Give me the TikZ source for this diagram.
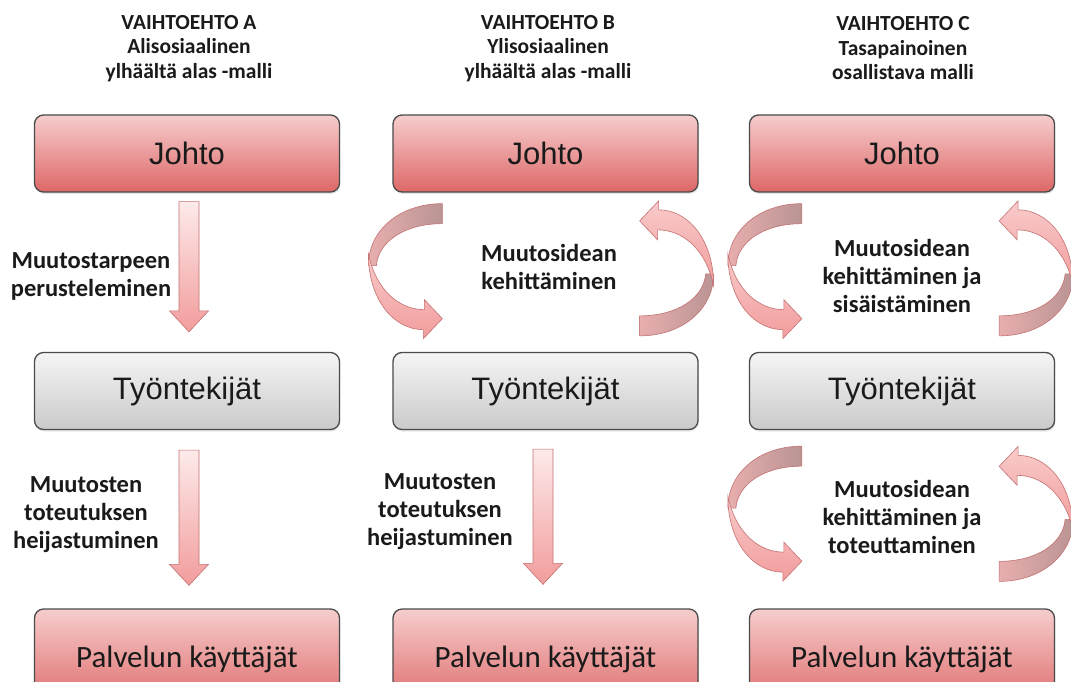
\documentclass[tikz,border=0pt]{standalone}
\usepackage{fontspec}
\setmainfont{Carlito}
\newfontfamily\arialfont{Liberation Sans}
\usetikzlibrary{calc,shadows}

\definecolor{boxline}{HTML}{4A4A4A}
\definecolor{redtop}{HTML}{F6CDCD}
\definecolor{redbot}{HTML}{DE6767}
\definecolor{greytop}{HTML}{F5F5F5}
\definecolor{greybot}{HTML}{CACACA}
\definecolor{arrowtop}{HTML}{FDEAEA}
\definecolor{arrowbot}{HTML}{F29C9C}
\definecolor{arrowline}{HTML}{C47272}
\definecolor{backdark}{HTML}{BA9494}
\definecolor{backlight}{HTML}{E8AEAE}
\definecolor{inktext}{HTML}{1A1A1A}

\tikzset{
  box/.style={draw=boxline, line width=1.3pt, rounded corners=9pt,
    minimum width=305pt, minimum height=77pt, inner sep=0pt, text=inktext,
    drop shadow={shadow xshift=0.8pt, shadow yshift=-2pt, opacity=0.18}},
  redbox/.style={box, top color=redtop, bottom color=redbot,
    font=\arialfont\fontsize{31}{31}\selectfont},
  greybox/.style={box, top color=greytop, bottom color=greybot,
    font=\arialfont\fontsize{31}{31}\selectfont},
  userbox/.style={box, top color=redtop, bottom color=redbot,
    minimum height=100pt, font=\fontsize{31}{31}\selectfont},
  head/.style={align=center, text=inktext,
    font=\bfseries\fontsize{21.5}{24.5}\selectfont},
  lbl/.style={align=center, text=inktext,
    font=\bfseries\fontsize{24.5}{28}\selectfont},
  fatdown/.style={to path={
    let \p1=(\tikztostart), \p2=(\tikztotarget) in
    (\x1-10pt,\y1) -- (\x1+10pt,\y1) -- (\x1+10pt,\y2+21pt)
    -- (\x1+19.5pt,\y2+21pt) -- (\x1,\y2) -- (\x1-19.5pt,\y2+21pt)
    -- (\x1-10pt,\y2+21pt) -- cycle}},
  fatarrow/.style={top color=arrowtop, bottom color=arrowbot,
    draw=arrowline, line width=0.6pt, fatdown},
  ribbon/.pic={
    % back face of the loop
    \shade[left color=backlight, right color=backdark,
      draw=arrowline, line width=0.6pt]
      (0,0) .. controls (-43,0) and (-74,27) .. (-74,62)
      -- (-66,62) .. controls (-64,38) and (-38,20) .. (0,20) -- cycle;
    % front face with the head
    \shade[top color=arrowtop!60!arrowbot, bottom color=arrowbot,
      draw=arrowline, line width=0.6pt]
      (-74,50) .. controls (-74,97) and (-48,126) .. (-19,126)
      -- (-19,135) -- (0,115) -- (-18,96) -- (-18,106)
      .. controls (-42,106) and (-66,88) .. (-74,50) -- cycle;
  }
}

\begin{document}
\begin{tikzpicture}[x=1pt, y=-1pt]
\useasboundingbox (0,0) rectangle (1071,681);
\clip (0,0) rectangle (1071,681);
\fill[white] (0,0) rectangle (1071,681);

% column headings
\node[head] (hA) at (189,48.5) {VAIHTOEHTO A\\Alisosiaalinen\\ylhäältä alas -malli};
\node[head] (hB) at (548,48.5) {VAIHTOEHTO B\\Ylisosiaalinen\\ylhäältä alas -malli};
\node[head] (hC) at (903,48.5) {VAIHTOEHTO C\\Tasapainoinen\\osallistava malli};

% boxes
\node[redbox] (jA) at (187,153.5) {Johto};
\node[redbox] (jB) at (545.5,153.5) {Johto};
\node[redbox] (jC) at (902,153.5) {Johto};
\node[greybox] (tA) at (187,391) {Työntekijät};
\node[greybox] (tB) at (545.5,391) {Työntekijät};
\node[greybox] (tC) at (902,391) {Työntekijät};
\node[userbox] (pA) at (187,659) {Palvelun käyttäjät};
\node[userbox] (pB) at (545.5,659) {Palvelun käyttäjät};
\node[userbox] (pC) at (902,659) {Palvelun käyttäjät};

% straight arrows
\coordinate (a1s) at ($(jA.south)+(2,9)$);
\coordinate (a1e) at ($(tA.north)+(2,-20)$);
\coordinate (a2s) at ($(tA.south)+(2,20)$);
\coordinate (a2e) at ($(pA.north)+(2,-23)$);
\coordinate (b2s) at ($(tB.south)+(-2.5,19)$);
\coordinate (b2e) at ($(pB.north)+(-2.5,-24)$);
\shade[fatarrow] (a1s) to (a1e);
\shade[fatarrow] (a2s) to (a2e);
\shade[fatarrow] (b2s) to (b2e);

% looping ribbon arrows
\pic at ($(jB.south west)+(50,11)$) {ribbon};
\pic[rotate=180] at ($(tB.north east)+(-59,-16)$) {ribbon};
\pic at ($(jC.south west)+(53,11)$) {ribbon};
\pic[rotate=180] at ($(tC.north east)+(-56,-16)$) {ribbon};
\pic at ($(tC.south west)+(53,16)$) {ribbon};
\pic[rotate=180] at ($(pC.north east)+(-56,-27)$) {ribbon};

% arrow labels
\node[lbl] (lA1) at (91,276) {Muutostarpeen\\perusteleminen};
\node[lbl] (lA2) at (86,515) {Muutosten\\toteutuksen\\heijastuminen};
\node[lbl] (lB1) at (549,267) {Muutosidean\\kehittäminen};
\node[lbl] (lB2) at (440,512) {Muutosten\\toteutuksen\\heijastuminen};
\node[lbl] (lC1) at (902,276) {Muutosidean\\kehittäminen ja\\sisäistäminen};
\node[lbl] (lC2) at (902,517) {Muutosidean\\kehittäminen ja\\toteuttaminen};
\end{tikzpicture}
\end{document}
